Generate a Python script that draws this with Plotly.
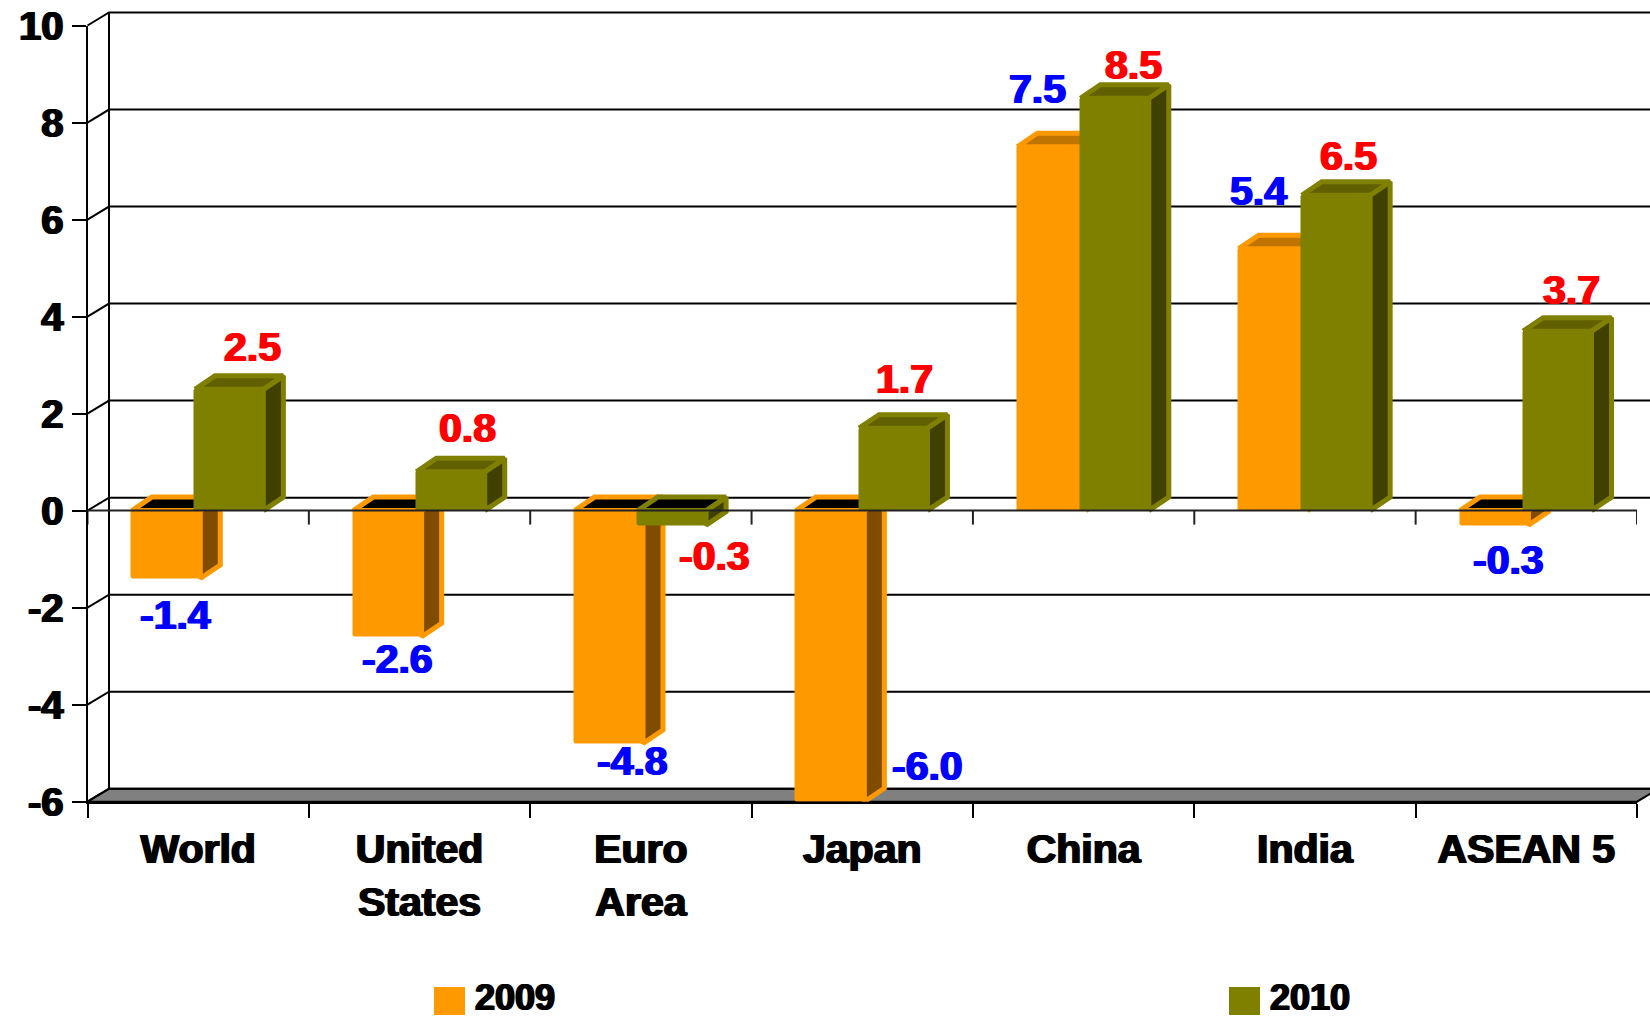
import plotly.graph_objects as go

# ---- data ----
categories = ["World", "United<br>States", "Euro<br>Area", "Japan", "China", "India", "ASEAN 5"]
series_names = ["2009", "2010"]
values_2009 = [-1.4, -2.6, -4.8, -6.0, 7.5, 5.4, -0.3]
values_2010 = [2.5, 0.8, -0.3, 1.7, 8.5, 6.5, 3.7]
y_tick_values = [-6, -4, -2, 0, 2, 4, 6, 8, 10]
y_tick_labels = ["-6", "-4", "-2", "0", "2", "4", "6", "8", "10"]

# ---- label nudges in pixels from each bar's end ----
nudge_x_2009 = [9, 10, 24, 97, -14, -14, 14]
nudge_y_2009 = [-36, -22, -18, 36, 58, 58, -35]
nudge_x_2010 = [23, 17, 43, 11, 19, 13, 14]
nudge_y_2010 = [42, 44, -31, 49, 33, 39, 41]

# ---- geometry ----
W, H = 1650, 1021
L, R, T, B = 87.5, 13, 25.5, 219.3
plot_w, plot_h = W - L - R, H - T - B
n = len(categories)
x_unit = plot_w / n
y_unit = plot_h / 16
wall_dx, wall_dy = 21.5 / x_unit, 13 / y_unit      # wall depth
bar_dx, bar_dy = 20.0 / x_unit, 13.5 / y_unit      # bar depth
bar_w = 68.4 / x_unit
pos_2009, pos_2010 = 0.355, 0.640
FONT = "Liberation Sans"
ORANGE, ORANGE_SIDE, ORANGE_TOP = "#FF9900", "#804D00", "#BF7300"
OLIVE, OLIVE_SIDE, OLIVE_TOP = "#808000", "#404000", "#606000"


def poly(xs, ys, fill, line, xa, ya, width=5):
    return go.Scatter(x=xs + xs[:1], y=ys + ys[:1], mode="lines", fill="toself", fillcolor=fill,
                      line=dict(color=line, width=width), xaxis=xa, yaxis=ya, cliponaxis=False,
                      showlegend=False, hoverinfo="skip")


def add_series(fig, name, values, pos, col, side, top, xa, ya, legend):
    xc = [i + pos for i in range(n)]
    fig.add_trace(go.Bar(x=xc, y=values, width=bar_w, name=name, marker=dict(color=col, line=dict(color=col, width=1)),
                         xaxis=xa, yaxis=ya, cliponaxis=False, hoverinfo="skip", legend=legend))
    for c, v in zip(xc, values):
        l, r = c - bar_w / 2, c + bar_w / 2
        fig.add_trace(poly([r, r + bar_dx, r + bar_dx, r], [0, bar_dy, v + bar_dy, v], side, col, xa, ya))
        h = max(v, 0)
        fig.add_trace(poly([l, l + bar_dx, r + bar_dx, r], [h, h + bar_dy, h + bar_dy, h],
                           "#000000" if v < 0 else top, col, xa, ya))


fig = go.Figure()

# floor (on a full-canvas hidden subplot that shares the chart's scale)
fig.add_trace(poly([0, wall_dx, n + wall_dx, n], [-6, -6 + wall_dy, -6 + wall_dy, -6], "#808080", "#000000", "x", "y", 2))
# gridlines on the back wall and their diagonals
gx, gy = [wall_dx, wall_dx, None], [-6 + wall_dy, 10 + wall_dy, None]
for v in y_tick_values:
    gx += [0, wall_dx, n + wall_dx, None]
    gy += [v, v + wall_dy, v + wall_dy, None]
fig.add_trace(go.Scatter(x=gx, y=gy, mode="lines", line=dict(color="#000000", width=2), xaxis="x", yaxis="y",
                         showlegend=False, hoverinfo="skip"))

add_series(fig, series_names[0], values_2009, pos_2009, ORANGE, ORANGE_SIDE, ORANGE_TOP, "x2", "y2", "legend")
add_series(fig, series_names[1], values_2010, pos_2010, OLIVE, OLIVE_SIDE, OLIVE_TOP, "x3", "y3", "legend2")

# zero line with its ticks
zx, zy = [0, n, None], [0, 0, None]
for i in range(n + 1):
    zx += [i, i, None]
    zy += [0, -14 / y_unit, None]
fig.add_trace(go.Scatter(x=zx, y=zy, mode="lines", line=dict(color="#222222", width=2), xaxis="x3", yaxis="y3",
                         cliponaxis=False, showlegend=False, hoverinfo="skip"))

# data labels
annotations = []
for vals, pos, nx, ny, color in [(values_2009, pos_2009, nudge_x_2009, nudge_y_2009, "#0000FF"),
                                 (values_2010, pos_2010, nudge_x_2010, nudge_y_2010, "#FF0000")]:
    for i, v in enumerate(vals):
        annotations.append(dict(x=i + pos, y=v, xref="x3", yref="y3", text=f"{v:.1f}", showarrow=False,
                                xshift=nx[i], yshift=ny[i], xanchor="center", yanchor="middle",
                                font=dict(family=FONT, size=41, color=color, weight=700,
                                          shadow=f"1px 0 0 {color}, -1px 0 0 {color}")))

# legend swatch backings (the native legend's keys are fixed small squares)
shapes = []
for px, col in [(434, ORANGE), (1229, OLIVE)]:
    shapes.append(dict(type="rect", xref="paper", yref="paper",
                       x0=px / W, x1=(px + 31) / W,
                       y0=(H - 1015) / H, y1=(H - 987) / H,
                       fillcolor=col, line=dict(width=0), layer="above"))

BLACK_HEAVY = "1px 0 0 #000000, -1px 0 0 #000000"
legend_font = dict(family=FONT, size=36, color="#000000", weight=700, shadow=BLACK_HEAVY)
hidden = dict(visible=False, fixedrange=True)
x_domain = [L / W, (W - R) / W]
y_domain = [B / H, (H - T) / H]
fig.update_layout(
    width=W, height=H, autosize=False, template=None,
    margin=dict(l=0, r=0, t=0, b=0, pad=0, autoexpand=False),
    paper_bgcolor="white", plot_bgcolor="rgba(0,0,0,0)",
    barmode="overlay", bargap=0, barcornerradius=2,
    xaxis=dict(range=[-L / x_unit, (W - L) / x_unit], domain=[0, 1], anchor="y", **hidden),
    yaxis=dict(range=[-6 - B / y_unit, 10 + T / y_unit], domain=[0, 1], anchor="x", **hidden),
    xaxis2=dict(range=[0, n], domain=x_domain, anchor="y2", **hidden),
    yaxis2=dict(range=[-6, 10], domain=y_domain, anchor="x2", **hidden),
    xaxis3=dict(range=[0, n], overlaying="x2", anchor="y3", side="bottom", fixedrange=True,
                tickmode="array", tickvals=[i + 0.5 for i in range(n)], ticktext=categories,
                ticks="outside", ticklen=10, tickcolor="rgba(0,0,0,0)",
                showline=True, linecolor="#000000", linewidth=2, showgrid=False, zeroline=False,
                tickfont=dict(family=FONT, size=41, color="#000000", weight=700, shadow=BLACK_HEAVY),
                minor=dict(ticks="outside", ticklen=14, tickwidth=2, tickcolor="#000000",
                           tickmode="array", tickvals=list(range(n + 1)), showgrid=False)),
    yaxis3=dict(range=[-6, 10], overlaying="y2", anchor="x3", side="left", fixedrange=True,
                tickmode="array", tickvals=y_tick_values, ticktext=y_tick_labels,
                ticks="outside", ticklen=14, tickwidth=2, tickcolor="#000000",
                showline=True, linecolor="#000000", linewidth=2, showgrid=False, zeroline=False,
                tickfont=dict(family=FONT, size=40, color="#000000", weight=700, shadow=BLACK_HEAVY)),
    showlegend=True,
    legend=dict(x=435 / W, xanchor="left", y=(H - 996) / H, yanchor="middle",
                font=legend_font, bgcolor="rgba(0,0,0,0)", itemclick=False, itemdoubleclick=False),
    legend2=dict(x=1230 / W, xanchor="left", y=(H - 996) / H, yanchor="middle",
                 font=legend_font, bgcolor="rgba(0,0,0,0)", itemclick=False, itemdoubleclick=False),
    annotations=annotations, shapes=shapes,
)
fig.write_html("out.html", config={"displayModeBar": False}, post_script="document.body.style.margin='0';")
